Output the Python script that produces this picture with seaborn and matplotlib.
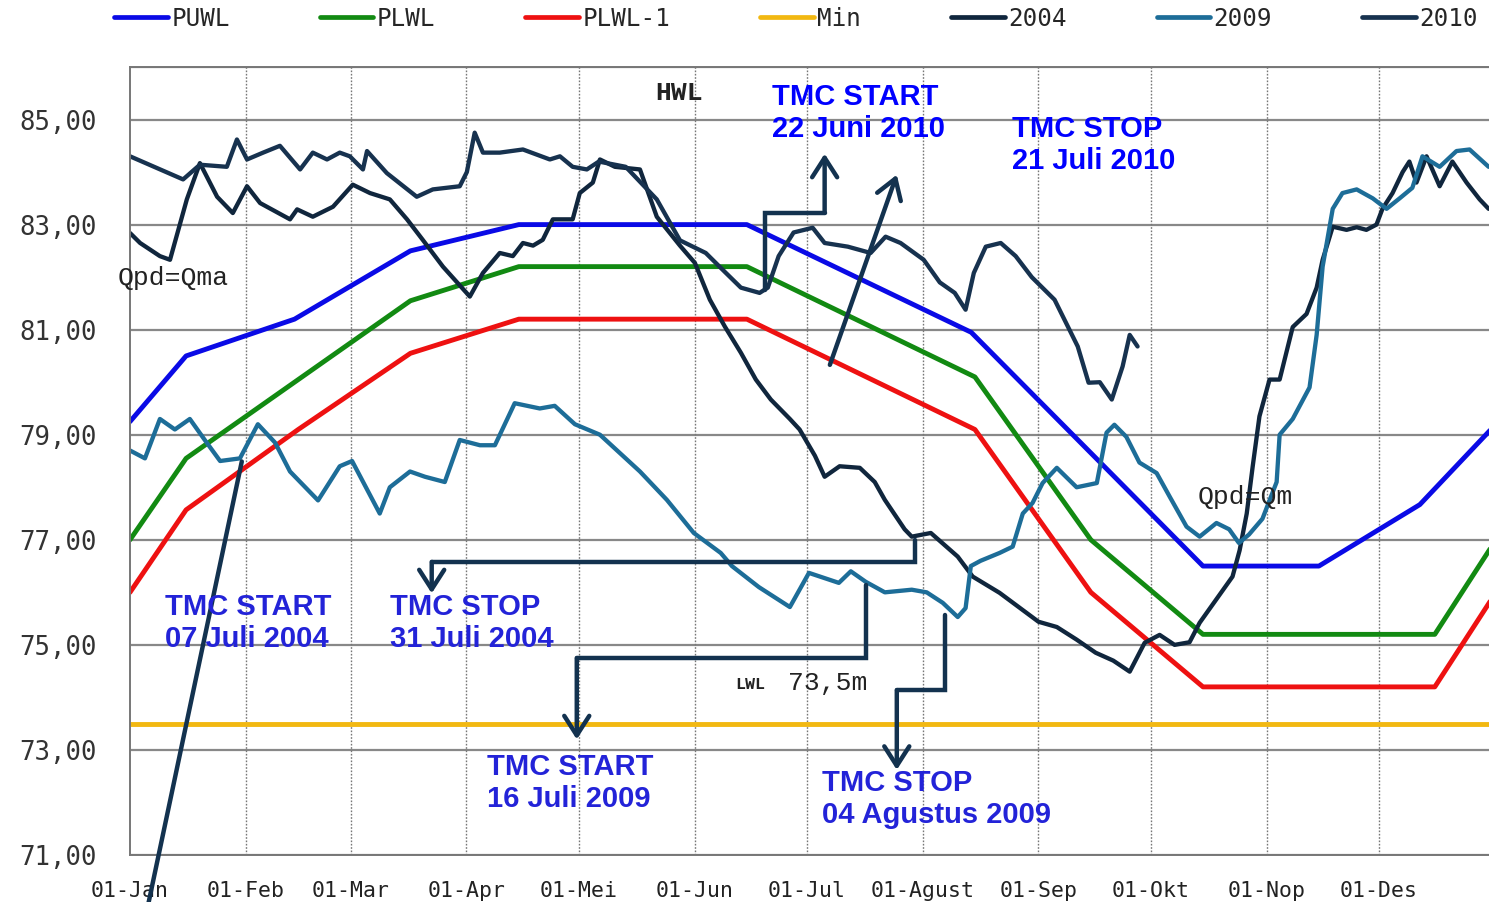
import numpy as np
import pandas as pd
import matplotlib
matplotlib.use("Agg")
import matplotlib.pyplot as plt
import seaborn as sns
from matplotlib.lines import Line2D

# ==========================
# Data (day of year, elevation in m)
# ==========================
month_days = [0, 31, 59, 90, 120, 151, 181, 212, 243, 273, 304, 334]
month_labels = ["01-Jan", "01-Feb", "01-Mar", "01-Apr", "01-Mei", "01-Jun",
                "01-Jul", "01-Agust", "01-Sep", "01-Okt", "01-Nop", "01-Des"]
y_ticks = [71, 73, 75, 77, 79, 81, 83, 85]

puwl_day = [0, 15, 44, 75, 104, 165, 225, 287, 318, 345, 364]
puwl_val = [79.25, 80.5, 81.2, 82.5, 83.0, 83.0, 80.95, 76.5, 76.5, 77.67, 79.1]

plwl_day = [0, 15, 45, 75, 104, 165, 226, 257, 287, 349, 364]
plwl_val = [77.0, 78.55, 80.05, 81.55, 82.2, 82.2, 80.1, 77.0, 75.2, 75.2, 76.85]
plwl1_val = [76.0, 77.57, 79.1, 80.55, 81.2, 81.2, 79.1, 76.0, 74.2, 74.2, 75.85]

min_day = [0, 364]
min_val = [73.5, 73.5]

y2004_day = [0, 2.7, 8, 10.7, 15.2, 18.7, 23.3, 27.5, 31.3, 34.8, 42.8, 44.7, 48.9,
             54.3, 59.6, 64.2, 69.5, 74.1, 78.3, 83.7, 90.9, 94.4, 98.9, 102.4, 105.1,
             107.8, 110.4, 113.1, 118.4, 120.3, 123.8, 125.7, 129.7, 136.4, 140.9,
             147.1, 151.1, 155.1, 159.1, 163.4, 167.4, 171.4, 176.5, 179.1, 183.2,
             185.8, 189.8, 195.2, 199.2, 201.9, 207.2, 209.1, 214.2, 221.4, 225.4,
             232.6, 243.0, 247.9, 253.2, 258.3, 263.0, 267.4, 271.4, 275.4, 279.4,
             283.4, 286.1, 294.9, 296.8, 298.7, 300.3, 302.1, 304.8, 307.5, 311.0,
             314.7, 317.4, 319.0, 321.7, 325.4, 328.1, 330.7, 333.4, 335.0, 337.7,
             340.4, 342.2, 344.1, 346.8, 350.3, 353.7, 357.5, 361.0, 363.4]
y2004_val = [82.84, 82.65, 82.4, 82.33, 83.48, 84.17, 83.53, 83.22, 83.73, 83.41, 83.1,
             83.29, 83.15, 83.34, 83.76, 83.6, 83.48, 83.1, 82.71, 82.2, 81.63, 82.08,
             82.46, 82.4, 82.65, 82.6, 82.71, 83.1, 83.1, 83.6, 83.8, 84.24, 84.1,
             84.05, 83.15, 82.6, 82.27, 81.57, 81.06, 80.56, 80.05, 79.67, 79.3, 79.1,
             78.6, 78.2, 78.4, 78.37, 78.1, 77.76, 77.2, 77.06, 77.13, 76.68, 76.3,
             75.99, 75.44, 75.34, 75.1, 74.85, 74.7, 74.49, 75.04, 75.19, 75.0, 75.05,
             75.42, 76.3, 76.8, 77.5, 78.4, 79.35, 80.05, 80.05, 81.05, 81.3, 81.8,
             82.33, 82.96, 82.9, 82.95, 82.9, 83.0, 83.3, 83.6, 84.0, 84.2, 83.8,
             84.3, 83.73, 84.2, 83.8, 83.48, 83.3]

y2009_day = [0, 4, 8, 12, 16, 20, 24.1, 29.4, 34.2, 38.8, 42.8, 50.3, 56.1, 59.4,
             66.8, 69.5, 74.9, 78.9, 84.2, 88.2, 93.6, 97.6, 102.9, 109.6, 113.6,
             119, 125.7, 136.4, 143.6, 150.8, 158, 161, 168.2, 176.5, 181.6, 189.6,
             192.8, 196.8, 201.9, 209.1, 213.1, 217.4, 221.4, 223.5, 224.9, 227.5,
             232.6, 236.1, 238.8, 241.4, 244.1, 247.9, 253.2, 258.6, 261.2, 263.3,
             266.5, 270, 274.6, 278.1, 282.6, 286.1, 290.6, 294, 296.6, 299.3,
             302.9, 306.7, 307.5, 311, 315.5, 317.4, 319, 321.7, 324.3, 328.1,
             332.4, 336.1, 339.6, 343, 345.7, 350.3, 354.8, 358.3, 363.4]
y2009_val = [78.7, 78.55, 79.3, 79.1, 79.3, 78.9, 78.5, 78.55, 79.2, 78.85, 78.3,
             77.75, 78.4, 78.5, 77.5, 78.0, 78.3, 78.2, 78.1, 78.9, 78.8, 78.8, 79.6,
             79.5, 79.55, 79.2, 79.0, 78.3, 77.76, 77.13, 76.75, 76.5, 76.1, 75.72,
             76.37, 76.18, 76.4, 76.2, 76.0, 76.05, 76.0, 75.8, 75.53, 75.7, 76.5,
             76.6, 76.75, 76.87, 77.5, 77.7, 78.08, 78.37, 78.0, 78.08, 79.04, 79.19,
             78.96, 78.47, 78.27, 77.82, 77.25, 77.06, 77.32, 77.2, 76.94, 77.1,
             77.4, 78.1, 79.0, 79.3, 79.9, 80.9, 82.2, 83.3, 83.6, 83.67, 83.5, 83.3,
             83.5, 83.7, 84.3, 84.1, 84.4, 84.43, 84.1]

y2010_day = [0, 14.2, 18.7, 25.9, 28.6, 31.3, 35.6, 40.1, 45.5, 48.9, 52.7, 56.1,
             58.8, 62.3, 63.4, 68.7, 76.7, 81.0, 88.2, 90.1, 92.2, 94.4, 98.9, 105.1,
             112.3, 115, 118.4, 122.2, 125.4, 132.6, 140.9, 147.1, 154, 159.1, 163.4,
             168.4, 170.6, 173.5, 177.5, 182.6, 185.8, 192, 198.1, 202.1, 206.1,
             212.3, 216.6, 220.6, 223.5, 225.7, 228.9, 232.9, 236.9, 241.2, 247.3,
             253.5, 256.4, 259.4, 262.6, 265.5, 267.4, 269.5]
y2010_val = [84.3, 83.86, 84.14, 84.1, 84.62, 84.24, 84.37, 84.5, 84.05, 84.37, 84.24,
             84.37, 84.3, 84.05, 84.4, 83.98, 83.53, 83.67, 83.73, 84.0, 84.75, 84.37,
             84.37, 84.43, 84.24, 84.3, 84.1, 84.05, 84.2, 84.1, 83.48, 82.7, 82.46,
             82.1, 81.8, 81.7, 81.8, 82.4, 82.85, 82.94, 82.65, 82.58, 82.46, 82.77,
             82.65, 82.33, 81.9, 81.7, 81.38, 82.08, 82.58, 82.65, 82.4, 82.0, 81.57,
             80.68, 79.99, 80.0, 79.67, 80.3, 80.9, 80.68]

colors = {"PUWL": "#0a0ae6", "PLWL": "#128a12", "PLWL-1": "#ee1111",
          "Min": "#f2b811", "2004": "#10263d", "2009": "#1d6d98", "2010": "#17324f"}

rules = pd.concat([
    pd.DataFrame({"day": puwl_day, "level": puwl_val, "serie": "PUWL"}),
    pd.DataFrame({"day": plwl_day, "level": plwl_val, "serie": "PLWL"}),
    pd.DataFrame({"day": plwl_day, "level": plwl1_val, "serie": "PLWL-1"}),
    pd.DataFrame({"day": min_day, "level": min_val, "serie": "Min"}),
])
years = pd.concat([
    pd.DataFrame({"day": y2004_day, "level": y2004_val, "serie": "2004"}),
    pd.DataFrame({"day": y2009_day, "level": y2009_val, "serie": "2009"}),
    pd.DataFrame({"day": y2010_day, "level": y2010_val, "serie": "2010"}),
])

# ==========================
# Plot
# ==========================
sns.set_style("white")
mono = "DejaVu Sans Mono"
fig = plt.figure(figsize=(14.89, 9.02), dpi=100)
ax = fig.add_axes([130 / 1489, 1 - 855 / 902, 1 - 130 / 1489, (855 - 67) / 902])

sns.lineplot(data=rules, x="day", y="level", hue="serie", palette=colors,
             estimator=None, sort=False, linewidth=3.5, legend=False, ax=ax)
sns.lineplot(data=years, x="day", y="level", hue="serie", palette=colors,
             estimator=None, sort=False, linewidth=3.1, legend=False, ax=ax)

ax.set_xlim(0, 363.5)
ax.set_ylim(71, 86)
ax.set_xticks(month_days)
ax.set_xticklabels(month_labels, fontfamily=mono, fontsize=15.5, color="#222222")
ax.set_yticks(y_ticks)
ax.set_yticklabels([f"{v:.2f}".replace(".", ",") for v in y_ticks],
                   fontfamily=mono, fontsize=18.5, color="#333333")
ax.tick_params(axis="y", direction="inout", length=20, width=1.2, color="#666666", pad=14)
ax.tick_params(axis="x", direction="out", length=5, width=1, color="#666666", pad=14)
ax.set_xlabel("")
ax.set_ylabel("")
for y in y_ticks + [86]:
    ax.axhline(y, color="#888888", lw=1.6, zorder=0)
for d in month_days[1:]:
    ax.axvline(d, color="#777777", lw=1.0, ls=(0, (1.2, 1.2)), zorder=0)
ax.spines["right"].set_visible(False)
for s in ["left", "bottom", "top"]:
    ax.spines[s].set_color("#777777")
    ax.spines[s].set_linewidth(1.4)

# ==========================
# TMC annotations
# ==========================
navy = "#13324f"
arrow_kw = dict(arrowstyle="->,head_length=0.7,head_width=0.45", color=navy, lw=3.2,
                mutation_scale=20, shrinkA=0, shrinkB=0)

brackets = [
    [(169.8, 81.76), (169.8, 83.23), (185.8, 83.23), (185.8, 84.35)],
    [(209.9, 77.0), (209.9, 76.58), (80.7, 76.58), (80.7, 75.98)],
    [(196.8, 76.14), (196.8, 74.75), (119.5, 74.75), (119.5, 73.2)],
    [(217.9, 75.57), (217.9, 74.14), (205.1, 74.14), (205.1, 72.62)],
]
for pts in brackets:
    xs, ys = zip(*pts)
    ax.plot(xs[:-1], ys[:-1], color=navy, lw=3.2, solid_joinstyle="miter", zorder=5)
    ax.annotate("", xy=pts[-1], xytext=pts[-2], arrowprops=arrow_kw, zorder=5)

ax.annotate("", xy=(205.1, 83.95), xytext=(187.2, 80.33), arrowprops=arrow_kw, zorder=5)
ax.plot([3.8, 29.9], [69.7, 78.49], color=navy, lw=3.2, clip_on=False, zorder=5)

tmc_font = dict(fontfamily="Liberation Sans", fontweight="bold", fontsize=21,
                ha="left", va="center", linespacing=1.2, zorder=6)
ax.text(171.7, 85.13, "TMC START\n22 Juni 2010", color="#0000ff", **tmc_font)
ax.text(235.8, 84.52, "TMC STOP\n21 Juli 2010", color="#0000ff", **tmc_font)
ax.text(9.4, 75.42, "TMC START\n07 Juli 2004", color="#2323d8", **tmc_font)
ax.text(69.5, 75.42, "TMC STOP\n31 Juli 2004", color="#2323d8", **tmc_font)
ax.text(95.5, 72.37, "TMC START\n16 Juli 2009", color="#2323d8", **tmc_font)
ax.text(185.0, 72.07, "TMC STOP\n04 Agustus 2009", color="#2323d8", **tmc_font)

note_font = dict(fontfamily="Liberation Mono", fontsize=19, color="#222222",
                 ha="left", va="center", zorder=6)
ax.text(140.4, 85.51, "HWL", fontweight="bold", **note_font)
ax.text(-3.2, 81.99, "Qpd=Qma", **note_font)
ax.text(285.6, 77.82, "Qpd=Qm", **note_font)
ax.text(161.8, 74.25, "LWL", fontweight="bold", fontfamily="Liberation Mono",
        fontsize=12, color="#222222", ha="left", va="center")
ax.text(176.0, 74.28, "73,5m", **note_font)

# ==========================
# Legend
# ==========================
order = ["PUWL", "PLWL", "PLWL-1", "Min", "2004", "2009", "2010"]
handles = [Line2D([], [], color=colors[k], lw=3.4) for k in order]
fig.legend(handles, order, loc="center", bbox_to_anchor=(796 / 1489, 1 - 19 / 902),
           ncol=7, frameon=False, handlelength=2.2, handletextpad=0.15,
           columnspacing=3.7, prop={"family": mono, "size": 17.5})

plt.savefig("out.png", dpi=100)
plt.close()
